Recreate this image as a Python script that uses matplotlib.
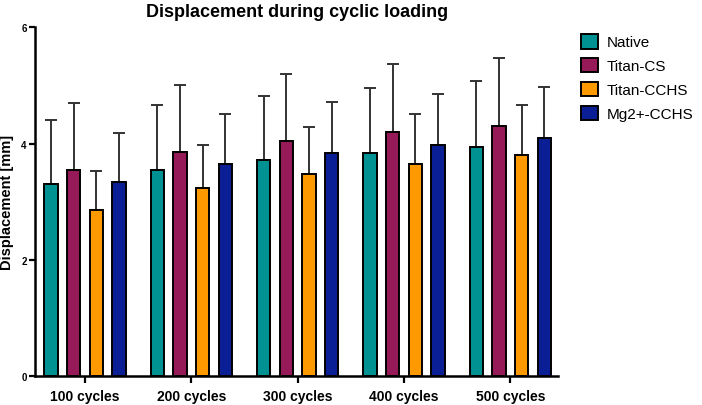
import matplotlib.pyplot as plt
import numpy as np

plt.rcParams['font.family'] = ['Liberation Sans', 'DejaVu Sans']

# --- data ---
cycles = ['100 cycles', '200 cycles', '300 cycles', '400 cycles', '500 cycles']
groups = ['Native', 'Titan-CS', 'Titan-CCHS', 'Mg2+-CCHS']

native = [3.30, 3.55, 3.72, 3.83, 3.94]
native_top = [4.41, 4.66, 4.82, 4.95, 5.07]
titan_cs = [3.55, 3.85, 4.04, 4.19, 4.30]
titan_cs_top = [4.70, 5.01, 5.20, 5.36, 5.47]
titan_cchs = [2.86, 3.23, 3.48, 3.65, 3.80]
titan_cchs_top = [3.52, 3.98, 4.28, 4.50, 4.66]
mg_cchs = [3.34, 3.65, 3.84, 3.98, 4.10]
mg_cchs_top = [4.18, 4.51, 4.71, 4.85, 4.98]

means = [native, titan_cs, titan_cchs, mg_cchs]
tops = [native_top, titan_cs_top, titan_cchs_top, mg_cchs_top]
colors = ['#009292', '#961a57', '#ff9900', '#0a1e96']

fig = plt.figure(figsize=(7.02, 4.06), dpi=100)
ax = fig.add_axes([0.050, 0.0714, 0.745, 0.859])

x = np.arange(len(cycles))
step = 0.213
width = 0.125
for i, (m, t, c, g) in enumerate(zip(means, tops, colors, groups)):
    m = np.array(m)
    err = np.array(t) - m
    pos = x + (i - 1.5) * step
    ax.bar(pos, m, width=width, color=c, edgecolor='black', linewidth=1.4,
           label=g, zorder=2)
    ax.errorbar(pos, m, yerr=[np.zeros_like(err), err], fmt='none',
                ecolor='#333333', elinewidth=1.4, capsize=4, capthick=1.4,
                zorder=1)

ax.set_xlim(-0.47, 4.45)
ax.set_ylim(0, 6)
ax.set_yticks([0, 2, 4, 6])
ax.set_xticks(x)
ax.set_xticklabels(cycles, fontsize=10, fontweight='bold')
for lab in ax.get_yticklabels():
    lab.set_fontsize(7)
    lab.set_fontweight('bold')
ax.tick_params(axis='both', width=1.6, length=4, pad=2)
ax.tick_params(axis='x', length=5, pad=4)

for s in ['top', 'right']:
    ax.spines[s].set_visible(False)
for s in ['left', 'bottom']:
    ax.spines[s].set_linewidth(1.8)

ax.set_ylabel('Displacement [mm]', fontsize=10.5, fontweight='bold', labelpad=5)
ax.set_title('Displacement during cyclic loading', fontsize=13,
             fontweight='bold', pad=8)

leg = fig.legend(loc='upper left', bbox_to_anchor=(0.808, 0.948),
                 frameon=False, fontsize=11, handlelength=1.1,
                 handleheight=1.1, handletextpad=0.6, labelspacing=0.55)

plt.savefig('out.png', dpi=100)
